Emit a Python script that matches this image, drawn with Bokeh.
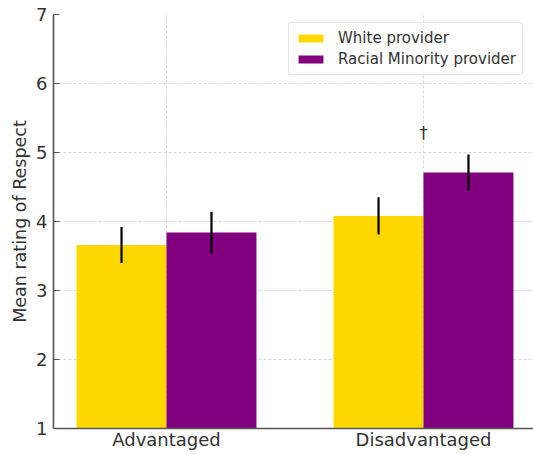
import numpy as np
from bokeh.plotting import figure
from bokeh.models import Range1d, FixedTicker, Legend, LegendItem
from bokeh.embed import file_html
from bokeh.resources import INLINE

# ---- data ----
categories = ["Advantaged", "Disadvantaged"]
series_names = ["White provider", "Racial Minority provider"]
white_means = [3.66, 4.08]
white_err = [0.26, 0.27]
minority_means = [3.84, 4.71]
minority_err = [0.30, 0.26]
y_ticks = [1, 2, 3, 4, 5, 6, 7]
sig_marks = ["", "\u2020"]
sig_y = [None, 5.28]

FONT = "DejaVu Sans"
TXT = "#333333"
bar_w = 0.35

idx = np.arange(len(categories))
xw = idx - bar_w / 2
xm = idx + bar_w / 2

p = figure(width=533, height=454, output_backend="svg", toolbar_location=None,
           x_range=Range1d(-0.4397, 1.428), y_range=Range1d(1, 7),
           min_border_left=53, min_border_top=14, min_border_right=0, min_border_bottom=26)
p.outline_line_color = None
p.background_fill_color = "white"

# grid
for g in (p.xgrid, p.ygrid):
    g.grid_line_color = "#cfcfcf"
    g.grid_line_dash = "3 2"
    g.grid_line_width = 0.8
p.xgrid.ticker = FixedTicker(ticks=list(idx))
p.ygrid.ticker = FixedTicker(ticks=y_ticks)

# bars
r_w = p.vbar(x=xw, top=white_means, bottom=1, width=bar_w, fill_color="#FFD700", line_color=None)
r_m = p.vbar(x=xm, top=minority_means, bottom=1, width=bar_w, fill_color="#800080", line_color=None)

# error bars
wm = np.array(white_means); we = np.array(white_err)
mm = np.array(minority_means); me = np.array(minority_err)
p.segment(x0=xw, y0=wm - we, x1=xw, y1=wm + we, line_color="black", line_width=2.2)
p.segment(x0=xm, y0=mm - me, x1=xm, y1=mm + me, line_color="black", line_width=2.2)

# significance marks
sx = [float(i) for i, s in zip(idx, sig_marks) if s]
sy = [y for y, s in zip(sig_y, sig_marks) if s]
st = [s for s in sig_marks if s]
p.text(x=sx, y=sy, text=st, text_align="center", text_baseline="middle",
       text_font_size="17px", text_color=TXT, text_font={"value": FONT})

# axes
p.xaxis.ticker = FixedTicker(ticks=list(idx))
p.xaxis.major_label_overrides = {int(i): c for i, c in zip(idx, categories)}
p.yaxis.ticker = FixedTicker(ticks=y_ticks)
p.yaxis.axis_label = "Mean rating of Respect"
for ax in (p.xaxis, p.yaxis):
    ax.axis_line_color = "#555555"
    ax.axis_line_width = 1.6
    ax.major_label_text_font = FONT
    ax.major_label_text_color = TXT
    ax.major_label_text_font_size = "18px"
    ax.minor_tick_line_color = None
    ax.major_tick_line_color = "#555555"
    ax.major_tick_line_width = 1.2
p.xaxis.major_tick_in = 0
p.xaxis.major_tick_out = 0
p.xaxis.major_label_standoff = 0
p.yaxis.major_tick_in = 6
p.yaxis.major_tick_out = 0
p.yaxis.major_label_standoff = 6
p.yaxis.axis_label_text_font = FONT
p.yaxis.axis_label_text_font_style = "normal"
p.yaxis.axis_label_text_font_size = "17.5px"
p.yaxis.axis_label_text_color = TXT
p.yaxis.axis_label_standoff = 3

legend = Legend(items=[LegendItem(label=series_names[0], renderers=[r_w]),
                       LegendItem(label=series_names[1], renderers=[r_m])],
                location=(235, 353))
legend.label_text_font = FONT
legend.label_text_font_size = "15px"
legend.label_text_color = TXT
legend.glyph_width = 31
legend.glyph_height = 10
legend.label_height = 18
legend.label_standoff = 12
legend.spacing = 3
legend.padding = 6
legend.border_line_color = "#cccccc"
legend.border_line_width = 1
legend.border_radius = 3
legend.background_fill_alpha = 0.8
p.add_layout(legend)

open("out.html", "w").write(file_html(p, INLINE))
